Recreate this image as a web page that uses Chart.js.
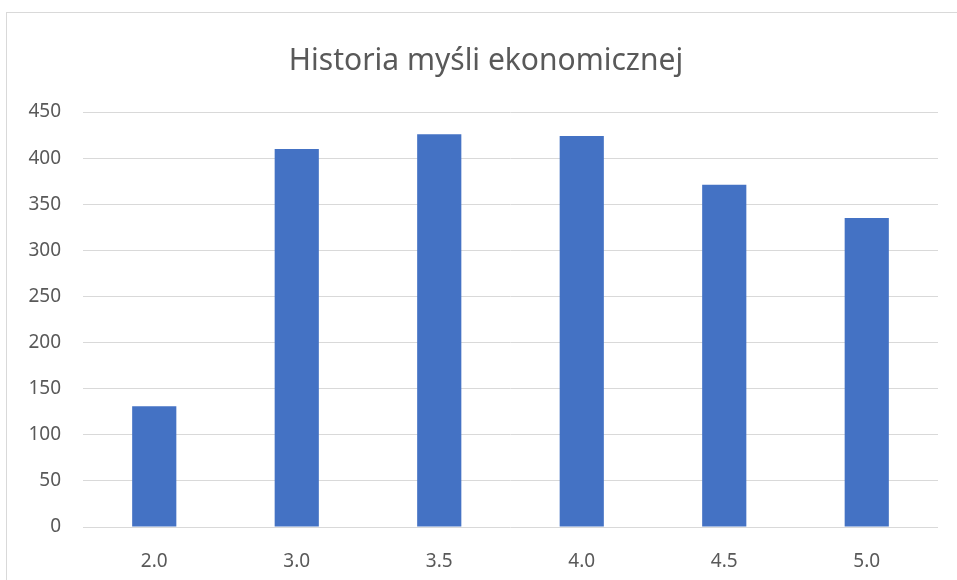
<!DOCTYPE html>
<html>
<head>
<meta charset="utf-8">
<script src="https://cdn.jsdelivr.net/npm/chart.js@4"></script>
<style>
  html, body { margin: 0; padding: 0; background: #fff; }
  #wrap { position: relative; width: 957px; height: 580px; overflow: hidden; }
  #frame { position: absolute; left: 6px; top: 12px; width: 980px; height: 600px; border: 1px solid #d9d9d9; }
  #chart { position: absolute; left: 0; top: 0; }
</style>
</head>
<body>
<div id="wrap">
  <div id="frame"></div>
  <canvas id="chart" width="972" height="580"></canvas>
</div>
<script>
// Data
const categories = ['2.0', '3.0', '3.5', '4.0', '4.5', '5.0'];
const counts = [131, 410, 426, 424, 371, 335];
const yTicks = [0, 50, 100, 150, 200, 250, 300, 350, 400, 450];

const textColor = '#595959';
const fontFamily = '"Noto Sans", "Open Sans", sans-serif';

new Chart(document.getElementById('chart'), {
    type: 'bar',
    data: {
        labels: categories,
        datasets: [{
            label: 'Historia myśli ekonomicznej',
            data: counts,
            backgroundColor: '#4472c4',
            categoryPercentage: 1,
            barPercentage: 0.31
        }]
    },
    options: {
        responsive: false,
        animation: false,
        layout: { padding: 0 },
        plugins: {
            legend: { display: false },
            tooltip: { enabled: false },
            title: {
                display: true,
                text: 'Historia myśli ekonomicznej',
                color: textColor,
                font: { family: fontFamily, size: 30, weight: 'normal' },
                padding: { top: 43, bottom: 33 }
            }
        },
        scales: {
            x: {
                grid: { display: false, drawTicks: false },
                border: { display: false },
                ticks: { color: textColor, font: { family: fontFamily, size: 19 }, padding: 23 },
                afterFit: (scale) => { scale.height = 53; }
            },
            y: {
                min: 0,
                max: 450,
                afterBuildTicks: (scale) => { scale.ticks = yTicks.map(v => ({ value: v })); },
                grid: { color: '#d9d9d9', lineWidth: 1, drawTicks: false },
                border: { display: false },
                ticks: { color: textColor, font: { family: fontFamily, size: 19 }, padding: 22 },
                afterFit: (scale) => { scale.width = 83; }
            },
            // empty right margin so the title centres over the whole frame
            yRight: {
                position: 'right',
                display: true,
                min: 0,
                max: 450,
                grid: { display: false, drawTicks: false },
                border: { display: false },
                ticks: { display: false },
                afterFit: (scale) => { scale.width = 34; }
            }
        }
    }
});
</script>
</body>
</html>
